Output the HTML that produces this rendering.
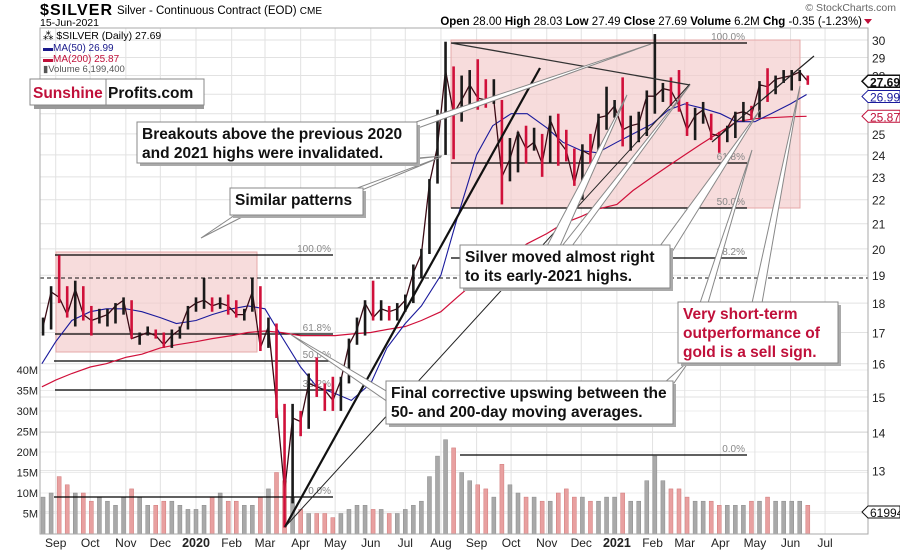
<!DOCTYPE html>
<html><head><meta charset="utf-8">
<style>
html,body{margin:0;padding:0;background:#fff;}
body{width:900px;height:550px;overflow:hidden;font-family:"Liberation Sans",sans-serif;}
svg text{font-family:"Liberation Sans",sans-serif;}
</style></head>
<body>
<svg id="chart" width="900" height="550" viewBox="0 0 900 550" xmlns="http://www.w3.org/2000/svg">
  <g id="grid"></g>
  <g id="zones">
    <rect x="56" y="252" width="201" height="100" fill="#f2caca" fill-opacity="0.65" stroke="#e6a8a8"/>
    <rect x="451" y="40" width="349" height="168" fill="#f2caca" fill-opacity="0.65" stroke="#e6a8a8"/>
  </g>
  <g id="vol"></g>
  <g id="fib"></g>
  <g id="ma"></g>
  <g id="price"></g>
  <g id="trend">
    <line x1="285" y1="527" x2="540" y2="68" stroke="#111" stroke-width="2.2"/>
    <line x1="285" y1="527" x2="690" y2="84" stroke="#222" stroke-width="1"/>
    <line x1="451" y1="43" x2="690" y2="85" stroke="#333" stroke-width="1.3"/>
    <line x1="712" y1="142" x2="814" y2="56" stroke="#222" stroke-width="1.2"/>
    <line x1="40" y1="278" x2="868" y2="278" stroke="#111" stroke-dasharray="4,3"/>
  </g>
  <g id="callouts"></g>
  <g id="axes"></g>
  <g id="header">
    <text x="40" y="15" font-size="16" font-weight="bold" textLength="72">$SILVER</text>
    <text x="117" y="14" font-size="11.5">Silver - Continuous Contract (EOD) <tspan font-size="10">CME</tspan></text>
    <text x="40" y="26" font-size="10.5">15-Jun-2021</text>
    <text x="896" y="11" font-size="10.5" fill="#666" text-anchor="end">© StockCharts.com</text>
    <text x="862" y="25" font-size="11.5" text-anchor="end"><tspan font-weight="bold">Open</tspan> 28.00  <tspan font-weight="bold">High</tspan> 28.03  <tspan font-weight="bold">Low</tspan> 27.49  <tspan font-weight="bold">Close</tspan> 27.69  <tspan font-weight="bold">Volume</tspan> 6.2M  <tspan font-weight="bold">Chg</tspan> -0.35 (-1.23%)</text>
    <polygon points="864,19 872,19 868,24" fill="#c0103a"/>
  </g>
  <g id="legend">
    <text x="43" y="39" font-size="10.5" font-family="DejaVu Sans, sans-serif">⁂ $SILVER (Daily) 27.69</text>
    <text x="43" y="51" font-size="10" fill="#1a1a8c" font-family="DejaVu Sans, sans-serif">▬MA(50) 26.99</text>
    <text x="43" y="62" font-size="10" fill="#c0103a" font-family="DejaVu Sans, sans-serif">▬MA(200) 25.87</text>
    <text x="43" y="72" font-size="9.5" fill="#555" font-family="DejaVu Sans, sans-serif">▮Volume 6,199,400</text>
  </g>
  <g id="logo">
    <rect x="34" y="83" width="170" height="26" fill="#999"/>
    <rect x="30" y="79" width="76" height="26" fill="#fff" stroke="#888"/>
    <rect x="106" y="79" width="98" height="26" fill="#fff" stroke="#888"/>
    <text x="33" y="98" font-size="15.5" font-weight="bold" fill="#c0103a">Sunshine</text>
    <text x="108" y="98" font-size="15.5" font-weight="bold" fill="#111">Profits.com</text>
  </g>
</svg>
<script>
// ---- data ----
const weekStart = "2019-08-19";
const closes = [17.2,18.4,18.2,17.6,18.5,17.6,17.4,17.5,17.6,17.9,18.1,16.8,16.9,17.0,16.9,16.6,16.9,17.1,17.8,18.0,
18.1,17.9,18.0,17.9,17.6,17.6,18.4,16.5,17.2,14.8,12.5,14.4,14.3,15.4,15.3,15.2,14.9,15.5,16.6,17.1,
18.0,17.5,17.8,17.7,17.8,18.1,19.1,19.8,22.7,24.4,28.3,26.0,26.7,27.5,26.8,26.7,26.7,23.0,23.8,25.1,
24.3,24.6,23.6,25.7,24.7,24.2,22.7,24.2,24.0,25.8,25.9,26.4,25.2,25.4,25.5,26.9,26.9,27.3,27.2,26.4,
25.2,25.9,26.2,25.0,24.9,25.3,26.0,26.1,25.9,27.5,27.4,27.8,27.9,28.0,28.2,27.69];
const highs = [17.5,18.6,19.75,18.6,18.8,18.6,17.9,17.8,17.8,18.0,18.2,18.1,17.0,17.2,17.1,17.0,17.1,17.2,17.9,18.2,
18.9,18.2,18.2,18.3,18.1,17.8,18.9,18.6,17.5,17.3,14.8,14.8,14.6,15.7,16.2,15.4,15.6,15.6,16.8,17.5,
18.1,18.8,18.1,17.9,18.0,18.3,19.4,20.0,22.9,26.2,29.9,28.5,28.0,28.3,28.9,27.8,27.8,26.7,24.8,25.1,
25.4,25.3,25.0,25.9,26.0,25.2,24.3,24.5,25.0,26.0,27.4,26.7,27.9,25.9,26.1,27.2,30.35,27.6,27.9,28.3,
26.6,26.3,26.6,26.0,25.1,25.4,26.1,26.6,26.4,27.7,28.4,28.0,28.3,28.3,28.3,28.0];
const lows = [16.9,17.1,18.0,17.5,17.2,17.4,16.9,17.3,17.2,17.3,17.6,16.8,16.6,16.9,16.8,16.5,16.5,16.8,17.1,17.7,
17.8,17.7,17.8,17.6,17.5,17.4,17.7,16.4,16.5,14.4,11.64,12.2,13.9,14.1,15.0,14.6,14.6,14.6,15.4,16.6,
16.9,17.4,17.4,17.4,17.4,17.7,18.0,18.9,19.8,22.7,24.0,23.8,25.6,26.4,26.2,26.3,26.5,21.8,22.8,23.2,
23.6,24.2,23.0,23.6,23.5,23.7,22.6,22.0,23.6,24.0,25.2,25.8,24.4,24.2,24.6,24.9,26.0,26.6,26.4,26.1,
24.9,24.7,25.5,24.7,24.1,24.6,24.8,25.6,25.7,25.8,26.6,27.0,27.6,27.2,27.7,27.5];
const volumes = [9,10,14,12,10,10,8,9,8,7, 9,11,9,7,7,8,8,7,6,6, 7,9,10,8,8,7,7,9,11,15, 13,9,6,5,5,5,4,5,6,7,
7,6,6,5,5,6,7,8,14,19, 23,21,15,13,12,11,9,17,12,10, 9,9,8,8,10,11,9,9,8,8, 9,9,10,8,8,13,19,13,11,11,
9,8,8,8,7,7,7,7,8,8, 9,8,8,8,8,7];
const maDates = ["2019-08-20","2019-09-01","2019-09-15","2019-10-01","2019-10-15","2019-11-01","2019-11-15","2019-12-01","2019-12-15",
"2020-01-01","2020-01-15","2020-02-01","2020-02-15","2020-03-01","2020-03-15","2020-04-01","2020-04-15","2020-05-01","2020-05-15",
"2020-06-01","2020-06-15","2020-07-01","2020-07-15","2020-08-01","2020-08-15","2020-09-01","2020-09-15","2020-10-01","2020-10-15",
"2020-11-01","2020-11-15","2020-12-01","2020-12-15","2021-01-01","2021-01-15","2021-02-01","2021-02-15","2021-03-01","2021-03-15",
"2021-04-01","2021-04-15","2021-05-01","2021-05-15","2021-06-01","2021-06-15"];
const ma50 = [16.0,16.7,17.4,17.7,17.8,17.8,17.7,17.5,17.3,17.4,17.6,17.8,17.9,17.8,16.9,15.9,15.3,15.1,14.9,
15.4,16.5,17.3,17.9,19.0,21.2,24.0,25.4,26.0,26.0,25.3,24.6,24.2,24.1,24.6,25.0,25.5,26.2,26.5,26.3,
26.0,25.6,25.6,26.0,26.5,26.99];
const ma200 = [15.3,15.5,15.7,15.9,16.0,16.2,16.3,16.5,16.6,16.7,16.8,16.9,17.0,17.05,17.0,16.9,16.9,16.9,16.95,
17.0,17.1,17.2,17.4,17.7,18.2,18.8,19.3,19.8,20.2,20.6,21.0,21.3,21.6,21.8,22.4,23.0,23.5,24.0,24.5,
25.1,25.6,25.75,25.8,25.85,25.87];
const priceTicks = [12,13,14,15,16,17,18,19,20,21,22,23,24,25,26,27,28,29,30];
const volTicks = [5,10,15,20,25,30,35,40];
const monthTicks = ["2019-09-01","2019-10-01","2019-11-01","2019-12-01","2020-01-01","2020-02-01","2020-03-01","2020-04-01","2020-05-01","2020-06-01","2020-07-01","2020-08-01","2020-09-01","2020-10-01","2020-11-01","2020-12-01","2021-01-01","2021-02-01","2021-03-01","2021-04-01","2021-05-01","2021-06-01","2021-07-01"];
const monthLabels = ["Sep","Oct","Nov","Dec","2020","Feb","Mar","Apr","May","Jun","Jul","Aug","Sep","Oct","Nov","Dec","2021","Feb","Mar","Apr","May","Jun","Jul"];

// ---- scales ----
const L=40,R=868,T=28,B=534;
const day0=Date.UTC(2020,0,1);
function days(s){const p=s.split('-');return (Date.UTC(+p[0],+p[1]-1,+p[2])-day0)/86400000;}
function xd(d){return 196+d*1.15;}
function xs(s){return xd(days(s));}
function y(p){return 40+515*Math.log(30/p);}
function yv(v){return B-v*4.1;}
const NS="http://www.w3.org/2000/svg";
function mk(tag,attrs,parent,txt){const e=document.createElementNS(NS,tag);for(const k in attrs)e.setAttribute(k,attrs[k]);if(txt!==undefined)e.textContent=txt;parent.appendChild(e);return e;}
const G=id=>document.getElementById(id);

// grid
const grid=G('grid');
priceTicks.forEach(p=>{const l=mk('line',{x1:L,x2:R,y1:y(p),y2:y(p),stroke:'#e2e2e2'},grid);

});
volTicks.forEach(v=>{const l=mk('line',{x1:L,x2:R,y1:yv(v),y2:yv(v),stroke:'#ececec'},grid);

});
monthTicks.forEach(m=>{const l=mk('line',{x1:xs(m),x2:xs(m),y1:T,y2:B,stroke:'#e2e2e2'},grid);

});

// volume + price
const w0=days(weekStart);
const vol=G('vol'), price=G('price');
volumes.forEach((v,i)=>{const x=xd(w0+i*7+2);const up=i===0||closes[i]>=closes[i-1];
const r=mk('rect',{x:x-2,y:yv(v),width:4,height:B-yv(v),fill:up?'#a9a9a9':'#e8a0a0',stroke:up?'#8a8a8a':'#d07878','stroke-width':0.5},vol);

});
// close line
const cl=mk('path',{d:closes.map((c,i)=>(i?'L':'M')+xd(w0+i*7+2).toFixed(1)+','+y(c).toFixed(1)).join(' '),fill:'none',stroke:'#3a0a14','stroke-width':1.3},price);


closes.forEach((c,i)=>{const x=xd(w0+i*7+2);const up=i===0||c>=closes[i-1];
const r=mk('rect',{x:x-1.3,y:y(highs[i]),width:2.6,height:Math.max(1,y(lows[i])-y(highs[i])),fill:up?'#1a1a1a':'#d0103a'},price);

});

// MAs
const ma=G('ma');
function path(vals){return vals.map((v,i)=>(i?'L':'M')+xs(maDates[i]).toFixed(1)+','+y(v).toFixed(1)).join(' ');}
const p200=mk('path',{d:path(ma200),fill:'none',stroke:'#d0103a','stroke-width':1.2},ma);


const p50=mk('path',{d:path(ma50),fill:'none',stroke:'#1a1a9c','stroke-width':1.1},ma);



// fib levels
const fib=G('fib');
const fibs=[[55,333,255,'100.0%'],[55,333,334,'61.8%'],[54,333,361,'50.0%'],[55,333,390,'38.2%'],[54,333,497,'0.0%'],
[451,747,43,'100.0%'],[451,747,163,'61.8%'],[451,747,208,'50.0%'],[451,747,258,'38.2%'],[460,747,455,'0.0%']];
fibs.forEach(f=>{const l=mk('line',{x1:f[0],x2:f[1],y1:f[2],y2:f[2],stroke:'#000','stroke-width':1.2},fib);


const t=mk('text',{x:f[1]-2,y:f[2]-3,'font-size':10,fill:'#888','text-anchor':'end'},fib,f[3]);

});

// callouts
const co=G('callouts');
function wedge(pts){const p=mk('polygon',{points:pts,fill:'#fff',stroke:'#888','stroke-width':1},co);

}
wedge('410,124 418,128 651,44');
wedge('405,160 418,158 442,156');
wedge('352,190 362,190 441,157');
wedge('238,213 250,213 201,238');
wedge('547,246 560,246 627,95');
wedge('562,246 572,246 690,85');
wedge('660,246 672,252 760,110');
wedge('700,303 708,303 752,150');
wedge('752,303 762,303 800,86');
wedge('388,392 388,402 290,334');
wedge('664,383 674,383 690,360');
function box(x,yy,w,h,lines,color,name){
const g=mk('g',{},co);


mk('rect',{x:x+3,y:yy+3,width:w,height:h,fill:'#aaa'},g);
mk('rect',{x:x,y:yy,width:w,height:h,fill:'#fff',stroke:'#888'},g);
lines.forEach((s,i)=>mk('text',{x:x+5,y:yy+17+i*19,'font-size':15.5,'font-weight':'bold',fill:color},g,s));}
box(137,122,280,41,['Breakouts above the previous 2020','and 2021 highs were invalidated.'],'#111','callout-breakouts');
box(230,188,133,27,['Similar patterns'],'#111','callout-similar-patterns');
box(460,245,210,43,['Silver moved almost right','to its early-2021 highs.'],'#111','callout-silver-moved');
box(678,302,160,61,['Very short-term','outperformance of','gold is a sell sign.'],'#c0103a','callout-sell-sign');
box(386,381,287,43,['Final corrective upswing between the','50- and 200-day moving averages.'],'#111','callout-final-upswing');

// axes
const ax=G('axes');
mk('rect',{x:L,y:T,width:R-L,height:B-T,fill:'none',stroke:'#aaa'},ax);
priceTicks.forEach(p=>{const t=mk('text',{x:872,y:y(p)+5,'font-size':12,fill:'#222'},ax,String(p));

});
volTicks.forEach(v=>{const t=mk('text',{x:38,y:yv(v)+4,'font-size':11,fill:'#222','text-anchor':'end'},ax,v+'M');

});
monthTicks.forEach((m,i)=>{const yr=/^\d{4}$/.test(monthLabels[i]);
const t=mk('text',{x:xs(m),y:547,'font-size':yr?12.5:12,'font-weight':yr?'bold':'normal',fill:'#222','text-anchor':'middle'},ax,monthLabels[i]);

});
function tag(yy,txt,col,bold){const g=mk('g',{},ax);


mk('polygon',{points:`862,${yy} 868,${yy-6} 900,${yy-6} 900,${yy+6} 868,${yy+6}`,fill:'#fff',stroke:col,'stroke-width':bold?1.5:1},g);
mk('text',{x:870,y:yy+5,'font-size':12,'font-weight':bold?'bold':'normal',fill:bold?'#111':col},g,txt);}
tag(y(27.69),'27.69','#111',true);
tag(y(26.99)+2,'26.99','#1a1a9c',false);
tag(y(25.87),'25.87','#c0103a',false);
tag(512,'61994','#111',false);
</script>
</body></html>
